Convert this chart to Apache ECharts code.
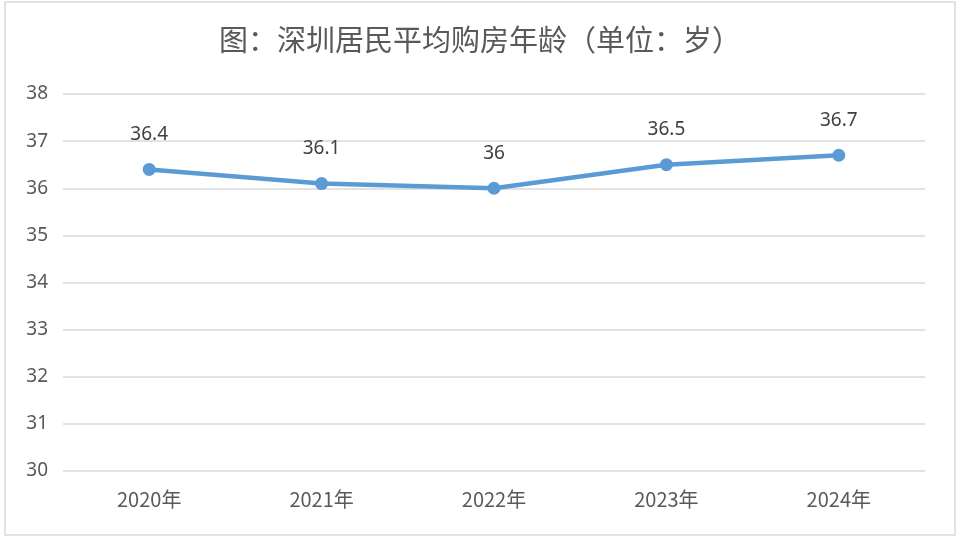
<!DOCTYPE html>
<html><head><meta charset="utf-8">
<script src="https://cdn.jsdelivr.net/npm/echarts@6/dist/echarts.min.js"></script>
<style>html,body{margin:0;padding:0;background:#fff}#c{width:960px;height:540px}</style>
</head><body><div id="c"></div>
<script>
const categories = ['2020年','2021年','2022年','2023年','2024年'];
const values = [36.4, 36.1, 36, 36.5, 36.7];
const titleText = '图：深圳居民平均购房年龄（单位：岁）';
const chart = echarts.init(document.getElementById('c'));
chart.setOption({
  backgroundColor:'#fff',
  animation:false,
  graphic:[{type:'rect',shape:{x:5,y:2,width:950,height:533},style:{fill:'none',stroke:'#d9d9d9',lineWidth:1.5}}],
  title:{text:titleText,left:'center',top:20,textStyle:{color:'#595959',fontSize:29,fontWeight:'normal',fontFamily:'Noto Sans CJK SC'}},
  grid:{left:63,right:35,top:94,bottom:69},
  xAxis:{type:'category',data:categories,boundaryGap:true,
    axisLine:{show:false},axisTick:{show:false},
    axisLabel:{color:'#595959',fontSize:20,margin:18,fontFamily:'Noto Sans CJK SC'}},
  yAxis:{type:'value',min:30,max:38,interval:1,
    axisLine:{show:false},axisTick:{show:false},
    axisLabel:{color:'#595959',fontSize:19,margin:15,fontFamily:'Noto Sans'},
    splitLine:{lineStyle:{color:'#d9d9d9',width:1.5}}},
  series:[{type:'line',data:values,symbol:'circle',symbolSize:13,
    lineStyle:{color:'#5b9bd5',width:4.5},itemStyle:{color:'#5b9bd5'},
    label:{show:true,position:'top',distance:19,color:'#404040',fontSize:19,fontFamily:'Noto Sans'}}]
});
</script></body></html>
